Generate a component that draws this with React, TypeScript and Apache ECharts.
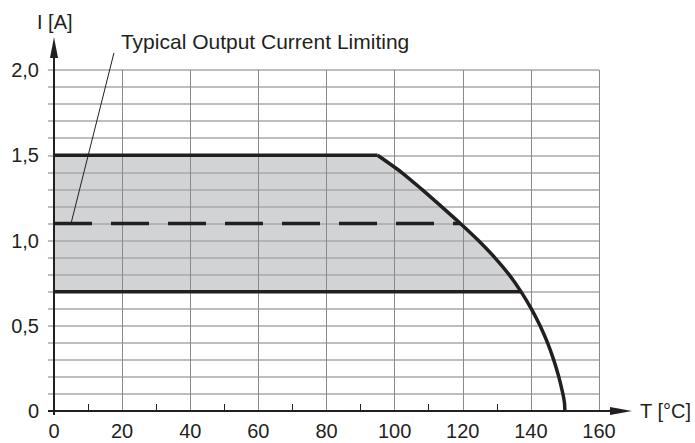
import React, { useEffect, useRef } from "react";
import * as echarts from "echarts";

// ---- data ----
const plateauT = [0, 95];
const plateauI = 1.5;
const curveT = [95, 102, 108, 113.7, 119.3, 124.6, 129.4, 133.6, 137.1, 140.1, 142.7, 144.9, 146.7, 148.2, 149.4, 149.85, 150];
const curveI = [1.5, 1.4, 1.3, 1.2, 1.1, 1.0, 0.9, 0.8, 0.7, 0.6, 0.5, 0.4, 0.3, 0.2, 0.1, 0.05, 0];
const minCurrent = 0.7;
const minCurrentT = [0, 137.1];
const typicalLimit = 1.1;
const typicalLimitT = [0, 119.3];
const leaderFrom = [5, 1.1];
const leaderTo = [17.6, 2.1];
const xMin = 0, xMax = 160, xStep = 20;
const yMin = 0, yMax = 2, yStep = 0.1;
const yLabelValues = [0, 0.5, 1.0, 1.5, 2.0];
const annotationText = "Typical Output Current Limiting";
const xName = "T [°C]";
const yName = "I [A]";

const FONT = "'Liberation Sans', Arial, Helvetica, sans-serif";
const INK = "#231f20";

export default function App() {
  const ref = useRef<HTMLDivElement>(null);
  useEffect(() => {
    document.body.style.margin = "0";
    const chart = echarts.init(ref.current!, undefined, { renderer: "svg" });
    const plateau = plateauT.map((t) => [t, plateauI]);
    const curve = curveT.map((t, i) => [t, curveI[i]]);
    const fillPts = [plateau[0], ...curve.filter((p) => p[1] >= minCurrent)];
    chart.setOption({
      animation: false,
      grid: { left: 54, right: 96, top: 70, bottom: 32, containLabel: false },
      xAxis: {
        type: "value",
        min: xMin,
        max: xMax,
        interval: xStep,
        axisLine: { show: false },
        axisTick: { show: false, inside: true, length: 7 },
        minorTick: { show: true, splitNumber: 2, length: 7, lineStyle: { color: INK, width: 1 } },
        axisLabel: { fontFamily: FONT, fontSize: 20, color: INK, margin: 10 },
        splitLine: { show: true, lineStyle: { color: "#8a8a8a", width: 1 } },
        z: 1,
      },
      yAxis: {
        type: "value",
        min: yMin,
        max: yMax,
        interval: yStep,
        axisLine: { show: false },
        axisTick: { show: true, length: 6, lineStyle: { color: "#a8a8a8", width: 1.5 } },
        axisLabel: {
          fontFamily: FONT,
          fontSize: 20,
          color: INK,
          margin: 15,
          formatter: (v: number) => {
            const hit = yLabelValues.find((l) => Math.abs(l - v) < 1e-6);
            if (hit === undefined) return "";
            return hit === 0 ? "0" : hit.toFixed(1).replace(".", ",");
          },
        },
        splitLine: { show: true, lineStyle: { color: "#a8a8a8", width: 1.5 } },
        z: 1,
      },
      series: [
        {
          type: "line",
          data: fillPts,
          symbol: "none",
          smooth: 0.25,
          lineStyle: { width: 0 },
          areaStyle: { color: "#d1d3d4", opacity: 1, origin: minCurrent },
          z: -1,
          silent: true,
        },
        {
          type: "line",
          data: minCurrentT.map((t) => [t, minCurrent]),
          symbol: "none",
          lineStyle: { color: INK, width: 3.5 },
          z: 3,
        },
        {
          type: "line",
          data: typicalLimitT.map((t) => [t, typicalLimit]),
          symbol: "none",
          lineStyle: { color: INK, width: 3.5, type: [38, 19], cap: "butt" },
          z: 3,
        },
        {
          type: "line",
          data: plateau,
          symbol: "none",
          lineStyle: { color: INK, width: 3.5 },
          z: 4,
        },
        {
          type: "line",
          data: curve,
          symbol: "none",
          smooth: 0.25,
          lineStyle: { color: INK, width: 3.5, join: "round" },
          z: 4,
        },
      ],
    });

    const o = chart.convertToPixel({ gridIndex: 0 }, [xMin, yMin]) as number[];
    const e = chart.convertToPixel({ gridIndex: 0 }, [xMax, yMax]) as number[];
    const lf = chart.convertToPixel({ gridIndex: 0 }, leaderFrom) as number[];
    const lt = chart.convertToPixel({ gridIndex: 0 }, leaderTo) as number[];
    const ax = o[0], ay = o[1];
    chart.setOption({
      graphic: [
        // y axis
        { type: "line", shape: { x1: ax, y1: ay + 4, x2: ax, y2: e[1] - 14 }, style: { stroke: INK, lineWidth: 2 }, z: 10 },
        { type: "polygon", shape: { points: [[ax, e[1] - 33], [ax - 4, e[1] - 12], [ax + 4, e[1] - 12]] }, style: { fill: INK }, z: 10 },
        // x axis
        { type: "line", shape: { x1: ax - 6, y1: ay, x2: e[0] + 14, y2: ay }, style: { stroke: INK, lineWidth: 2 }, z: 10 },
        { type: "polygon", shape: { points: [[e[0] + 33, ay], [e[0] + 11, ay - 4], [e[0] + 11, ay + 4]] }, style: { fill: INK }, z: 10 },
        // axis names
        { type: "text", x: ax - 17, y: e[1] - 48, style: { text: yName, font: `20px ${FONT}`, fill: INK, verticalAlign: "middle", align: "left" }, z: 10 },
        { type: "text", x: e[0] + 41, y: ay, style: { text: xName, font: `20px ${FONT}`, fill: INK, verticalAlign: "middle", align: "left" }, z: 10 },
        // annotation
        { type: "line", shape: { x1: lf[0], y1: lf[1], x2: lt[0], y2: lt[1] }, style: { stroke: INK, lineWidth: 1 }, z: 10 },
        { type: "text", x: lt[0] + 7, y: lt[1] - 11, style: { text: annotationText, font: `21px ${FONT}`, fill: INK, verticalAlign: "middle", align: "left" }, z: 10 },
      ],
    });
    return () => chart.dispose();
  }, []);
  return <div ref={ref} style={{ width: 695, height: 443 }} />;
}
